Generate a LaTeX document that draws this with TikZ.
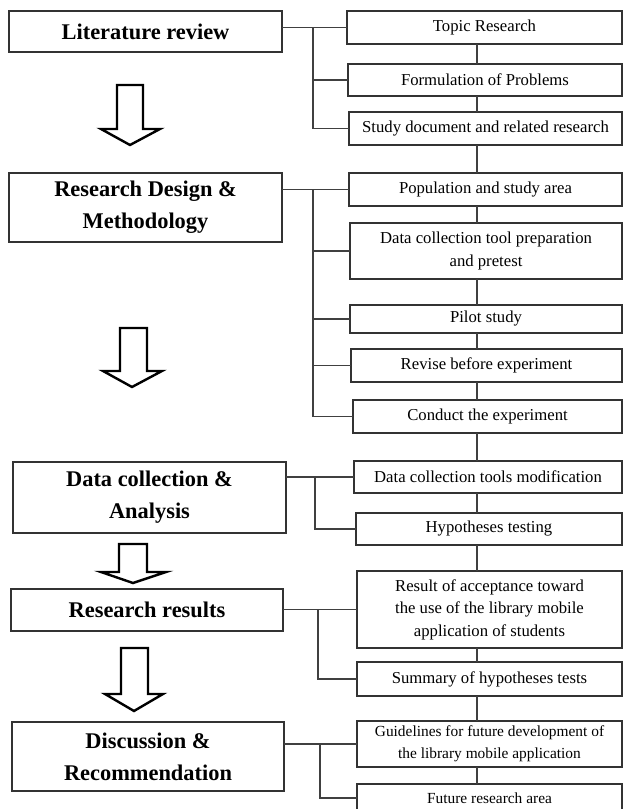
\documentclass[tikz,border=0pt]{standalone}
\usepackage{fontspec}
\setmainfont{Liberation Serif}
\begin{document}
\begin{tikzpicture}[x=1pt,y=-1pt,
  every node/.style={inner sep=0pt, outer sep=0pt},
  stage/.style={draw=black!80, line width=1.3pt, align=center,
    font=\fontsize{22.4}{32}\selectfont\bfseries},
  task/.style={draw=black!80, line width=1.2pt, align=center,
    font=\fontsize{16.7}{22.5}\selectfont},
  smalltask/.style={task, font=\fontsize{15.4}{22}\selectfont},
  link/.style={draw=black!75, line width=1.2pt},
  blockarrow/.style={draw=black, line width=2.4pt, fill=white, line join=miter}]
\useasboundingbox (0,0) rectangle (624,809);

% stages on the left
\node[stage, minimum width=273pt, minimum height=41pt] (L1) at (145.5,31.5) {Literature review};
\node[stage, minimum width=273pt, minimum height=69pt] (L2) at (145.5,207.5) {Research Design \&\\Methodology};
\node[stage, minimum width=273pt, minimum height=71pt] (L3) at (149.5,497.5) {Data collection \&\\Analysis};
\node[stage, minimum width=272pt, minimum height=42pt] (L4) at (147,610) {Research results};
\node[stage, minimum width=272pt, minimum height=69pt] (L5) at (148,756.5) {Discussion \&\\Recommendation};

% tasks on the right
\node[task, minimum width=275pt, minimum height=33pt] (R1) at (484.5,27.5) {Topic Research};
\node[task, minimum width=274pt, minimum height=32pt] (R2) at (485,80) {Formulation of Problems};
\node[task, minimum width=273pt, minimum height=33pt] (R3) at (485.5,128.5) {Study document and related research};
\node[task, minimum width=273pt, minimum height=33pt] (R4) at (485.5,189.5) {Population and study area};
\node[task, minimum width=272pt, minimum height=56pt] (R5) at (486,251) {Data collection tool preparation\\and pretest};
\node[task, minimum width=272pt, minimum height=28pt] (R6) at (486,319) {Pilot study};
\node[task, minimum width=271pt, minimum height=33pt] (R7) at (486.5,365.5) {Revise before experiment};
\node[task, minimum width=269pt, minimum height=33pt] (R8) at (487.5,416.5) {Conduct the experiment};
\node[task, minimum width=268pt, minimum height=32pt] (R9) at (488,477) {Data collection tools modification};
\node[task, minimum width=266pt, minimum height=32pt] (R10) at (489,529) {Hypotheses testing};
\node[task, minimum width=265pt, minimum height=77pt] (R11) at (489.5,609.5) {Result of acceptance toward\\the use of the library mobile\\application of students};
\node[task, minimum width=265pt, minimum height=34pt] (R12) at (489.5,679) {Summary of hypotheses tests};
\node[smalltask, minimum width=265pt, minimum height=46pt] (R13) at (489.5,744) {Guidelines for future development of\\the library mobile application};
\node[smalltask, minimum width=265pt, minimum height=28pt] (R14) at (489.5,798) {Future research area};

% vertical chain through the tasks
\coordinate (trunk) at (477,0);
\foreach \a/\b in {R1/R2,R2/R3,R3/R4,R4/R5,R5/R6,R6/R7,R7/R8,R8/R9,R9/R10,R10/R11,R11/R12,R12/R13,R13/R14}
  \draw[link] (trunk |- \a.south) -- (trunk |- \b.north);

% brackets from each stage to its tasks
\coordinate (b1) at (313,0);
\coordinate (b2) at (313,0);
\coordinate (b3) at (315,0);
\coordinate (b4) at (318,0);
\coordinate (b5) at (320,0);

\draw[link] (L1.east |- R1.west) -- (R1.west);
\draw[link] (b1 |- R1.west) -- (b1 |- R3.west) -- (R3.west);
\draw[link] (b1 |- R2.west) -- (R2.west);

\draw[link] (L2.east |- R4.west) -- (R4.west);
\draw[link] (b2 |- R4.west) -- (b2 |- R8.west) -- (R8.west);
\draw[link] (b2 |- R5.west) -- (R5.west);
\draw[link] (b2 |- R6.west) -- (R6.west);
\draw[link] (b2 |- R7.west) -- (R7.west);

\draw[link] (L3.east |- R9.west) -- (R9.west);
\draw[link] (b3 |- R9.west) -- (b3 |- R10.west) -- (R10.west);

\draw[link] (L4.east |- R11.west) -- (R11.west);
\draw[link] (b4 |- R11.west) -- (b4 |- R12.west) -- (R12.west);

\draw[link] (L5.east |- R13.west) -- (R13.west);
\draw[link] (b5 |- R13.west) -- (b5 |- R14.west) -- (R14.west);

% hollow block arrows between the stages
\draw[blockarrow] (117,85) -- (143,85) -- (143,129) -- (160,129) -- (130,145) -- (101,129) -- (117,129) -- cycle;
\draw[blockarrow] (120,328) -- (147,328) -- (147,371) -- (162,371) -- (132,387) -- (103,371) -- (120,371) -- cycle;
\draw[blockarrow] (119,544) -- (147,544) -- (147,572) -- (166,572) -- (133,583) -- (101,572) -- (119,572) -- cycle;
\draw[blockarrow] (121,648) -- (148,648) -- (148,694) -- (163,694) -- (134,711) -- (105,694) -- (121,694) -- cycle;
\end{tikzpicture}
\end{document}
